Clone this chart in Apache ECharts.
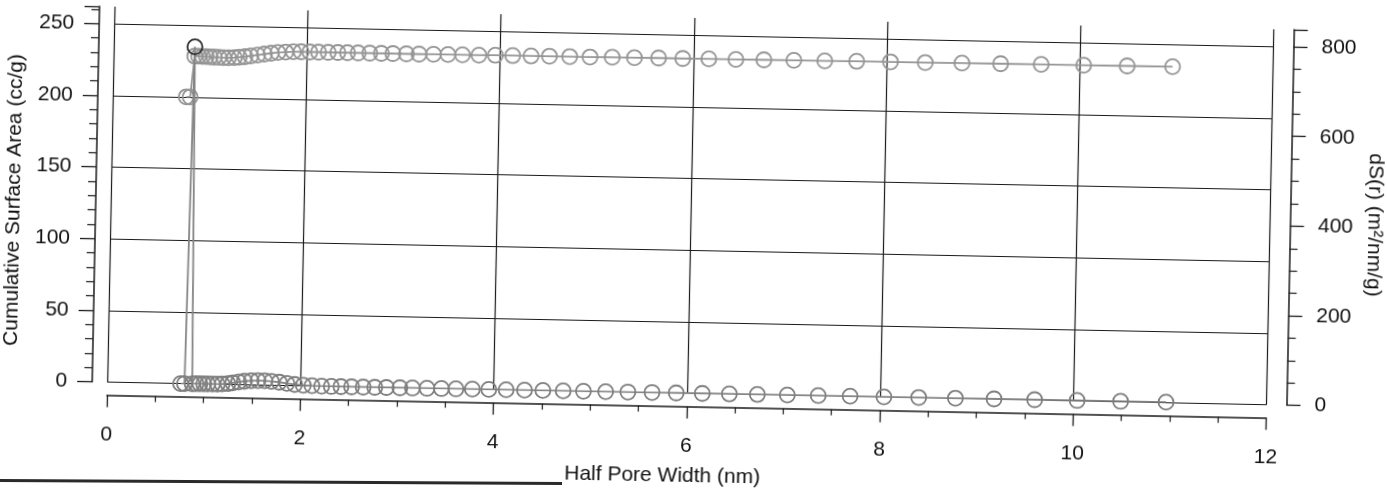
<!DOCTYPE html>
<html>
<head>
<meta charset="utf-8">
<script src="https://cdn.jsdelivr.net/npm/echarts@6/dist/echarts.min.js"></script>
<style>
html,body{margin:0;padding:0;background:#fff;overflow:hidden;width:1387px;height:489px;}
#wrap{position:absolute;left:0;top:0;width:1387px;height:489px;transform-origin:693.5px 244.5px;transform:rotate(1.12deg);}
#chart{width:1387px;height:489px;}
#edge{position:absolute;left:0;top:479px;width:562px;height:2.5px;background:#2a2a2a;transform:rotate(0.3deg);transform-origin:0 0;}
</style>
</head>
<body>
<div id="wrap"><div id="chart"></div></div>
<div id="edge"></div>
<script>
// Half pore width (nm)
const halfPoreWidth = [
  0.76, 0.80, 0.84, 0.88, 0.92, 0.96, 1.00, 1.04, 1.09, 1.14,
  1.19, 1.25, 1.30, 1.36, 1.42, 1.49, 1.56, 1.63, 1.70, 1.78,
  1.86, 1.94, 2.03, 2.12, 2.22, 2.32, 2.42, 2.53, 2.65, 2.77,
  2.89, 3.03, 3.16, 3.31, 3.46, 3.61, 3.78, 3.95, 4.13, 4.32,
  4.51, 4.72, 4.93, 5.16, 5.39, 5.64, 5.89, 6.16, 6.44, 6.73,
  7.04, 7.36, 7.69, 8.04, 8.40, 8.78, 9.18, 9.60, 10.04, 10.49,
  10.96
];
// Cumulative Surface Area (left axis)
const cumulativeArea = [
  200, 200, 228.5, 228.5, 228.4, 228.3, 228.2, 228.1, 228.0, 227.9,
  227.9, 228.0, 228.3, 228.8, 229.4, 230.1, 230.9, 231.6, 232.2, 232.6,
  232.9, 233.0, 233.0, 233.0, 233.0, 233.0, 233.0, 233.0, 233.0, 233.0,
  233.0, 233.0, 233.0, 233.1, 233.1, 233.1, 233.1, 233.2, 233.2, 233.2,
  233.3, 233.3, 233.3, 233.4, 233.4, 233.5, 233.5, 233.6, 233.6, 233.7,
  233.8, 233.8, 233.9, 234.0, 234.0, 234.1, 234.2, 234.3, 234.3, 234.4,
  234.5
];
// dS(r) (right axis)
const dSr = [
  0, 0, 752, 0, 0.5, 0.5, 0.5, 0.5, 0.5, 0.5,
  1, 2, 4, 6, 8, 9.5, 10, 10, 9, 7.5,
  5, 3, 1.5, 1, 0.5, 0.3, 0.2, 0.2, 0.2, 0.2,
  0.2, 0.2, 0.3, 0.3, 0.3, 0.3, 0.4, 0.4, 0.4, 0.5,
  0.5, 0.5, 0.6, 0.6, 0.7, 0.7, 0.8, 0.8, 0.9, 0.9,
  1.0, 1.0, 1.1, 1.1, 1.2, 1.2, 1.3, 1.3, 1.4, 1.4,
  1.5
];
const dSrHighlightIndex = 2;

const xTitle = 'Half Pore Width (nm)';
const yLeftTitle = 'Cumulative Surface Area (cc/g)';
const yRightTitle = 'dS(r) (m\u00B2/nm/g)';

const FONT = '"Liberation Sans", Arial, sans-serif';
const TXT = '#111';

const cumData = halfPoreWidth.map((x, i) => [x, cumulativeArea[i]]);
const dsData = halfPoreWidth.map((x, i) => i === dSrHighlightIndex
  ? { value: [x, dSr[i]], itemStyle: { borderColor: '#2b2b2b' } }
  : [x, dSr[i]]);

const chart = echarts.init(document.getElementById('chart'), null, { renderer: 'canvas' });
chart.setOption({
  animation: false,
  backgroundColor: 'transparent',
  grid: { left: 110, right: 117.5, top: 17.9, bottom: 95.4, containLabel: false, outerBoundsMode: 'none' },
  xAxis: {
    type: 'value', min: 0, max: 12, interval: 2, offset: 13,
    axisLine: { show: true, onZero: false, lineStyle: { color: '#1a1a1a', width: 1.5 } },
    axisTick: { show: true, length: 12, inside: false, lineStyle: { color: '#1a1a1a', width: 1.3 } },
    minorTick: { show: true, splitNumber: 4, length: 6, lineStyle: { color: '#1a1a1a', width: 1.2 } },
    axisLabel: { show: true, margin: 29, fontSize: 21, fontFamily: FONT, color: TXT },
    splitLine: { show: true, lineStyle: { color: '#1a1a1a', width: 1.2 } },
    minorSplitLine: { show: false },
    name: xTitle, nameLocation: 'middle', nameGap: 59,
    nameTextStyle: { fontSize: 21, fontFamily: FONT, color: TXT, padding: [0, 46, 0, 0] }
  },
  yAxis: [
    {
      type: 'value', min: 0, max: 262, interval: 50, position: 'left', offset: 15,
      axisLine: { show: true, onZero: false, lineStyle: { color: '#1a1a1a', width: 1.5 } },
      axisTick: { show: true, length: 15, inside: false, lineStyle: { color: '#1a1a1a', width: 1.3 } },
      minorTick: { show: true, splitNumber: 5, length: 8, lineStyle: { color: '#1a1a1a', width: 1.2 } },
      axisLabel: { show: true, margin: 25, fontSize: 21, fontFamily: FONT, color: TXT, showMaxLabel: false },
      splitLine: { show: true, showMaxLine: false, lineStyle: { color: '#1a1a1a', width: 1.2 } },
      name: yLeftTitle, nameLocation: 'middle', nameRotate: 90, nameGap: 67,
      nameTextStyle: { fontSize: 21, fontFamily: FONT, color: TXT, padding: [0, 15, 0, 0] }
    },
    {
      type: 'value', min: 0, max: 838.4, interval: 200, position: 'right', offset: 20,
      axisLine: { show: true, onZero: false, lineStyle: { color: '#1a1a1a', width: 1.5 } },
      axisTick: { show: true, length: 14, inside: false, lineStyle: { color: '#1a1a1a', width: 1.3 } },
      minorTick: { show: true, splitNumber: 4, length: 8, lineStyle: { color: '#1a1a1a', width: 1.2 } },
      axisLabel: { show: true, margin: 28, fontSize: 21, fontFamily: FONT, color: TXT, showMaxLabel: false },
      splitLine: { show: false },
      name: yRightTitle, nameLocation: 'middle', nameRotate: -90, nameGap: 67,
      nameTextStyle: { fontSize: 21, fontFamily: FONT, color: TXT, padding: [0, 0, 0, 12] }
    }
  ],
  series: [
    {
      name: 'Cumulative', type: 'line', xAxisIndex: 0, yAxisIndex: 0,
      data: cumData, symbol: 'circle', symbolSize: 15, showAllSymbol: true,
      itemStyle: { color: 'rgba(0,0,0,0)', borderColor: '#949494', borderWidth: 1.8 },
      lineStyle: { color: '#969696', width: 1.8 },
      emphasis: { disabled: true }, z: 3
    },
    {
      name: 'dS(r)', type: 'line', xAxisIndex: 0, yAxisIndex: 1,
      data: dsData, symbol: 'circle', symbolSize: 15, showAllSymbol: true,
      itemStyle: { color: 'rgba(0,0,0,0)', borderColor: '#7e7e7e', borderWidth: 1.8 },
      lineStyle: { color: '#858585', width: 1.8 },
      emphasis: { disabled: true }, z: 4
    }
  ]
});
</script>
</body>
</html>
